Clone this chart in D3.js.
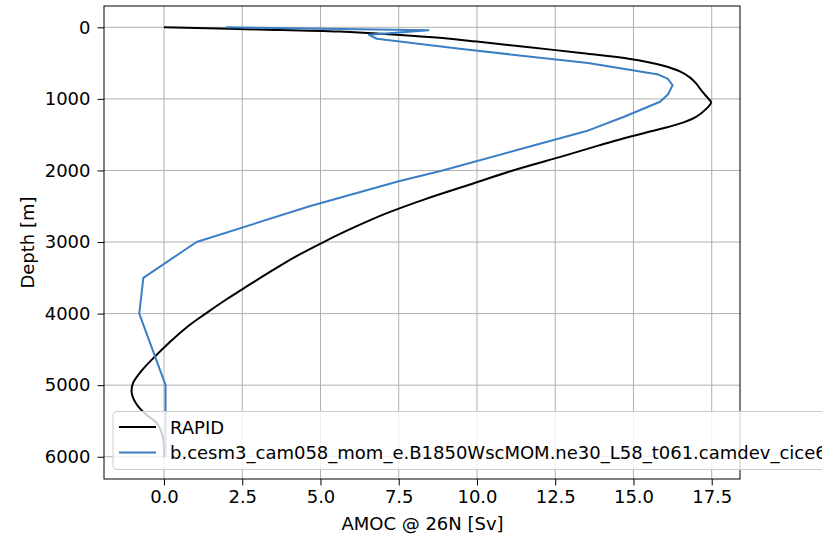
<!DOCTYPE html>
<html><head><meta charset="utf-8">
<script src="https://cdn.jsdelivr.net/npm/d3@7"></script>
<style>body{margin:0;background:#fff;} text{font-family:"DejaVu Sans",sans-serif;}</style>
</head><body><svg id="c" width="832" height="536"></svg>
<script>
// RAPID observational profile
const rapidDepth = [0, 30, 60, 100, 150, 200, 275, 363, 443, 530, 620, 700, 783, 900, 1000, 1050, 1150, 1250, 1350, 1450, 1550, 1650, 1800, 2000, 2200, 2400, 2600, 2800, 3000, 3200, 3400, 3600, 3800, 4000, 4200, 4400, 4600, 4800, 4970, 5110, 5270, 5400, 5530, 5700, 5850, 6000];
const rapidValue = [0.0, 3.0, 5.6, 7.3, 8.9, 10.0, 11.6, 13.4, 14.9, 15.9, 16.5, 16.8, 17.0, 17.2, 17.4, 17.48, 17.3, 17.0, 16.45, 15.6, 14.7, 13.9, 12.75, 11.15, 9.75, 8.35, 7.1, 6.05, 5.1, 4.22, 3.45, 2.72, 2.0, 1.33, 0.7, 0.18, -0.29, -0.72, -0.99, -1.03, -0.87, -0.6, -0.23, -0.05, 0.0, 0.0];
// Model profile
const modelDepth = [0, 40, 105, 160, 300, 500, 660, 720, 810, 940, 1040, 1250, 1450, 1700, 2000, 2150, 2500, 3000, 3500, 4000, 5000, 6000];
const modelValue = [2.0, 8.45, 6.55, 6.8, 9.45, 13.55, 15.8, 16.1, 16.25, 16.1, 15.85, 14.7, 13.5, 11.4, 8.9, 7.5, 4.65, 1.04, -0.66, -0.79, 0.05, 0.05];
const xTicks = [0, 2.5, 5, 7.5, 10, 12.5, 15, 17.5];
const yTicks = [0, 1000, 2000, 3000, 4000, 5000, 6000];
const seriesNames = ["RAPID", "b.cesm3_cam058_mom_e.B1850WscMOM.ne30_L58_t061.camdev_cice6.0"];
const seriesColors = ["#000000", "#3a7fc4"];

const svg = d3.select("#c");
svg.append("rect").attr("width", 832).attr("height", 536).attr("fill", "#fff");
const L = 104, R = 740, T = 6, B = 479;
const x = d3.scaleLinear().domain([-1.917, 18.404]).range([L, R]);
const y = d3.scaleLinear().domain([-297.6, 6311]).range([T, B]);
const FS = 18;

// grid
const g = svg.append("g");
g.selectAll(".gx").data(xTicks).join("line")
  .attr("x1", d => x(d)).attr("x2", d => x(d)).attr("y1", T).attr("y2", B)
  .attr("stroke", "#b0b0b0").attr("stroke-width", 1);
g.selectAll(".gy").data(yTicks).join("line")
  .attr("y1", d => y(d)).attr("y2", d => y(d)).attr("x1", L).attr("x2", R)
  .attr("stroke", "#b0b0b0").attr("stroke-width", 1);

// lines
const series = [
  rapidDepth.map((d, i) => [rapidValue[i], d]),
  modelDepth.map((d, i) => [modelValue[i], d])
];
const lineR = d3.line().x(d => x(d[0])).y(d => y(d[1])).curve(d3.curveCatmullRom.alpha(0.5));
const lineM = d3.line().x(d => x(d[0])).y(d => y(d[1]));
svg.append("path").attr("d", lineR(series[0])).attr("fill", "none")
  .attr("stroke", seriesColors[0]).attr("stroke-width", 2).attr("stroke-linejoin", "round");
svg.append("path").attr("d", lineM(series[1])).attr("fill", "none")
  .attr("stroke", seriesColors[1]).attr("stroke-width", 2).attr("stroke-linejoin", "round").attr("stroke-linecap", "round");

// axes
const ax = svg.append("g").attr("transform", `translate(0,${B})`)
  .call(d3.axisBottom(x).tickValues(xTicks).tickFormat(d3.format(".1f")).tickSize(6.5).tickPadding(5));
const ay = svg.append("g").attr("transform", `translate(${L},0)`)
  .call(d3.axisLeft(y).tickValues(yTicks).tickFormat(d3.format("d")).tickSize(6.5).tickPadding(7));
[ax, ay].forEach(a => {
  a.select(".domain").remove();
  a.selectAll("text").attr("font-size", FS).attr("fill", "#000").style("font-family", "DejaVu Sans");
  a.selectAll("line").attr("stroke", "#000").attr("stroke-width", 1);
});
svg.append("rect").attr("x", L).attr("y", T).attr("width", R - L).attr("height", B - T)
  .attr("fill", "none").attr("stroke", "#000").attr("stroke-width", 1);

svg.append("text").attr("x", (L + R) / 2 + 0.5).attr("y", 530).attr("text-anchor", "middle")
  .attr("font-size", FS).text("AMOC @ 26N [Sv]");
svg.append("text").attr("transform", `translate(34,${(T + B) / 2}) rotate(-90)`).attr("text-anchor", "middle")
  .attr("font-size", FS).text("Depth [m]");

// legend (figure clipped at right edge, as in the reference)
svg.append("clipPath").attr("id", "clipfig").append("rect").attr("x", 0).attr("y", 0).attr("width", 822).attr("height", 536);
const lg = svg.append("g").attr("clip-path", "url(#clipfig)");
lg.append("rect").attr("x", 113).attr("y", 411.5).attr("width", 760).attr("height", 58).attr("rx", 4)
  .attr("fill", "#fff").attr("fill-opacity", 0.8).attr("stroke", "#cccccc").attr("stroke-width", 1);
seriesNames.forEach((n, i) => {
  const yy = 427 + i * 25.5;
  lg.append("line").attr("x1", 119).attr("x2", 156).attr("y1", yy).attr("y2", yy)
    .attr("stroke", seriesColors[i]).attr("stroke-width", 2);
  lg.append("text").attr("x", 170).attr("y", yy + 6.5).attr("font-size", FS).text(n);
});
</script></body></html>
